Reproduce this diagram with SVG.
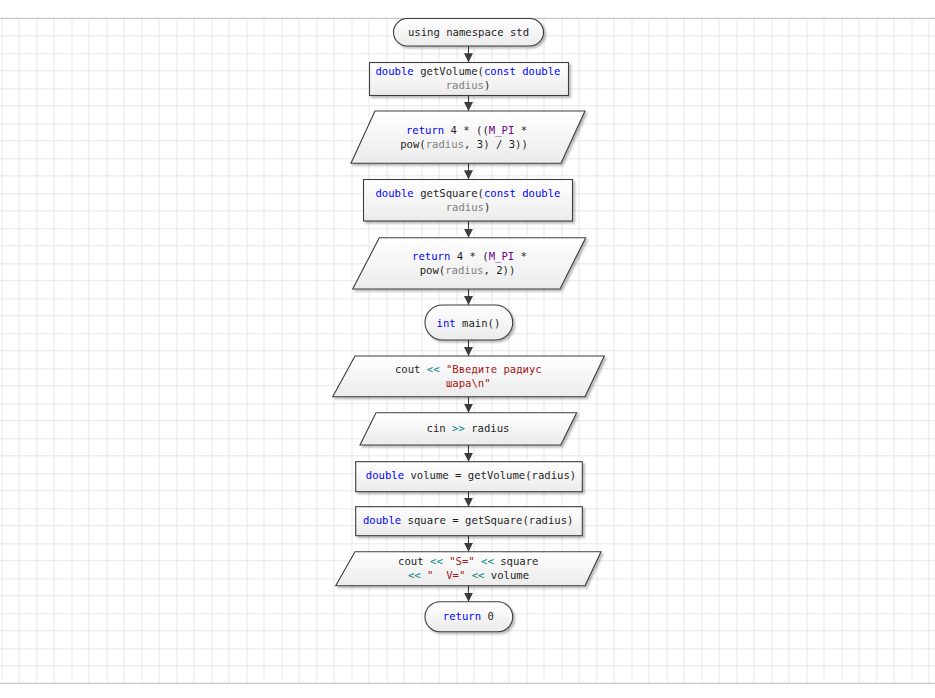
<svg xmlns="http://www.w3.org/2000/svg" width="935" height="698" viewBox="0 0 935 698">
<defs>
<pattern id="grid" patternUnits="userSpaceOnUse" x="1.5" y="18.3" width="35" height="35">
<path d="M17.5 0V35M0 17.5H35" stroke="#e6e6e6" stroke-width="1" fill="none"/>
<path d="M0 0V35M0 0H35" stroke="#d2d2d2" stroke-width="1" fill="none"/>
</pattern>
<linearGradient id="fillg" x1="0" y1="0" x2="0" y2="1">
<stop offset="0" stop-color="#ffffff"/>
<stop offset="1" stop-color="#ebebeb"/>
</linearGradient>
<filter id="sh" x="-10%" y="-20%" width="130%" height="160%">
<feDropShadow dx="2" dy="2" stdDeviation="1.3" flood-color="#000" flood-opacity="0.28"/>
</filter>
<marker id="arr" markerUnits="userSpaceOnUse" markerWidth="10" markerHeight="10" refX="9" refY="5" orient="auto">
<path d="M0,0.5 L9,5 L0,9.5 z" fill="#3c3c3c"/>
</marker>
</defs>
<style>
.shape{fill:url(#fillg);stroke:#3c3c3c;stroke-width:1.1;filter:url(#sh)}
text{font-family:"DejaVu Sans Mono","Liberation Mono",monospace;font-size:10.6px;fill:#1e1e1e;text-anchor:middle;white-space:pre}
.k{fill:#0000ff}
.p{fill:#808080}
.m{fill:#6f008a}
.s{fill:#a31515}
.o{fill:#008080}
.conn line{stroke:#3c3c3c;stroke-width:1.1;marker-end:url(#arr)}
</style>
<rect x="0" y="0" width="935" height="698" fill="#ffffff"/>
<rect x="0" y="18.3" width="935" height="665" fill="url(#grid)"/>
<line x1="0" y1="18.3" x2="935" y2="18.3" stroke="#bdbdbd" stroke-width="1"/>
<line x1="0" y1="683.3" x2="935" y2="683.3" stroke="#bdbdbd" stroke-width="1"/>

<g class="conn" id="connectors">
<line x1="468.5" y1="46" x2="468.5" y2="62.3"/>
<line x1="468.5" y1="95.3" x2="468.5" y2="111"/>
<line x1="468.5" y1="163.3" x2="468.5" y2="179.3"/>
<line x1="468.5" y1="221" x2="468.5" y2="237.7"/>
<line x1="468.5" y1="289" x2="468.5" y2="305"/>
<line x1="468.5" y1="340" x2="468.5" y2="356"/>
<line x1="468.5" y1="396.7" x2="468.5" y2="412.7"/>
<line x1="468.5" y1="445" x2="468.5" y2="461.7"/>
<line x1="468.5" y1="491.7" x2="468.5" y2="506.7"/>
<line x1="468.5" y1="535.7" x2="468.5" y2="551.7"/>
<line x1="468.5" y1="585.7" x2="468.5" y2="601.7"/>
</g>

<g id="n1">
<rect class="shape" x="393.5" y="18.5" width="150" height="27.5" rx="13.75"/>
<text x="468.5" y="35.7">using namespace std</text>
</g>
<g id="n2">
<rect class="shape" x="369.5" y="62.5" width="199" height="33"/>
<text x="468" y="75"><tspan class="k">double</tspan> getVolume(<tspan class="k">const</tspan> <tspan class="k">double</tspan></text>
<text x="468" y="89"><tspan class="p">radius</tspan>)</text>
</g>
<g id="n3">
<polygon class="shape" points="375,111 585,111 561,163.3 351,163.3"/>
<text x="466.5" y="133.5"><tspan class="k">return</tspan> 4 * ((<tspan class="m">M_PI</tspan> *</text>
<text x="464" y="148"><tspan>pow(</tspan><tspan class="p">radius</tspan><tspan>, 3) / 3))</tspan></text>
</g>
<g id="n4">
<rect class="shape" x="363.5" y="179.5" width="209" height="41.5"/>
<text x="468" y="197"><tspan class="k">double</tspan> getSquare(<tspan class="k">const</tspan> <tspan class="k">double</tspan></text>
<text x="468" y="211"><tspan class="p">radius</tspan>)</text>
</g>
<g id="n5">
<polygon class="shape" points="379.3,237.7 585.7,237.7 560,289 352.7,289"/>
<text x="469.5" y="260"><tspan class="k">return</tspan> 4 * (<tspan class="m">M_PI</tspan> *</text>
<text x="467.5" y="274"><tspan>pow(</tspan><tspan class="p">radius</tspan><tspan>, 2))</tspan></text>
</g>
<g id="n6">
<rect class="shape" x="425" y="305" width="87.7" height="35" rx="17.5"/>
<text x="468.5" y="326.5"><tspan class="k">int</tspan> main()</text>
</g>
<g id="n7">
<polygon class="shape" points="355,356 604.3,356 585,396.7 332.7,396.7"/>
<text x="468.3" y="372.7">cout <tspan class="o">&lt;&lt;</tspan> <tspan class="s">"Введите радиус</tspan></text>
<text x="468.3" y="387"><tspan class="s">шара\n"</tspan></text>
</g>
<g id="n8">
<polygon class="shape" points="376,412.7 576.7,412.7 560.7,445 360,445"/>
<text x="468" y="432">cin <tspan class="o">&gt;&gt;</tspan> radius</text>
</g>
<g id="n9">
<rect class="shape" x="355.7" y="461.7" width="226.6" height="30"/>
<text x="471" y="479"><tspan class="k">double</tspan> volume = getVolume(radius)</text>
</g>
<g id="n10">
<rect class="shape" x="355.7" y="506.7" width="226.6" height="29"/>
<text x="468.2" y="524"><tspan class="k">double</tspan> square = getSquare(radius)</text>
</g>
<g id="n11">
<polygon class="shape" points="355,551.7 601,551.7 585,585.7 335.7,585.7"/>
<text x="468.3" y="564.5">cout <tspan class="o">&lt;&lt;</tspan> <tspan class="s">"S="</tspan> <tspan class="o">&lt;&lt;</tspan> square</text>
<text x="468.5" y="579"><tspan class="o">&lt;&lt;</tspan> <tspan class="s">"  V="</tspan> <tspan class="o">&lt;&lt;</tspan> volume</text>
</g>
<g id="n12">
<rect class="shape" x="425" y="601.7" width="87.7" height="30" rx="15"/>
<text x="468.3" y="619.5"><tspan class="k">return</tspan> 0</text>
</g>
</svg>
